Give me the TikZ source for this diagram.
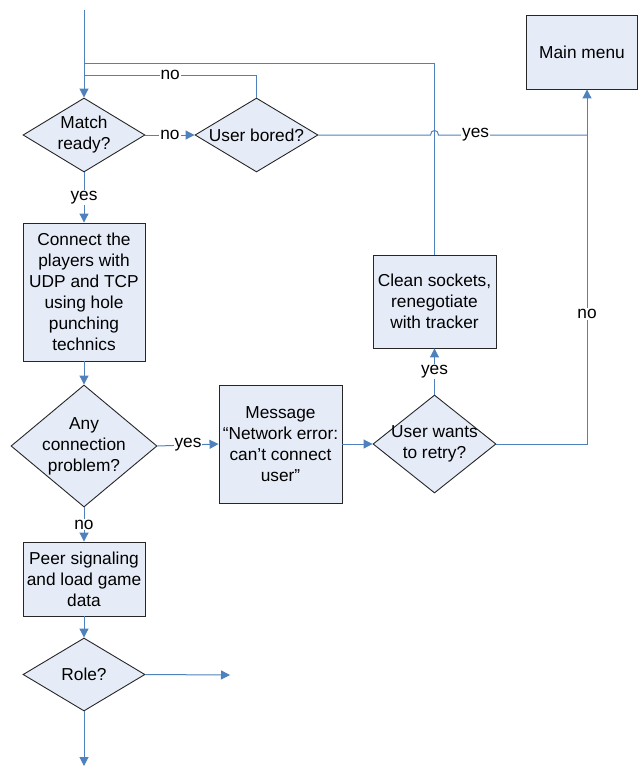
\documentclass[tikz,border=0pt]{standalone}
\usepackage{fontspec}
\setmainfont{Liberation Sans}
\usetikzlibrary{shapes.geometric,arrows.meta,calc}
\definecolor{flowline}{HTML}{4F81BD}
\definecolor{flowfill}{HTML}{E6ECF7}
\begin{document}
\begin{tikzpicture}[x=1pt,y=-1pt,
		font=\fontsize{17.3}{21}\selectfont,
		link/.style={draw=flowline,line width=1pt},
		tip/.style={link,-{Triangle[length=9pt,width=9pt]}},
		proc/.style={rectangle,draw=black!85,fill=flowfill,align=center,inner sep=0pt,line width=0.9pt},
		ask/.style={diamond,draw=black!85,fill=flowfill,inner sep=0pt,line width=0.9pt},
		tag/.style={fill=white,inner sep=1pt}]
	\useasboundingbox (0,0) rectangle (638,769);
		\coordinate (start) at (84,10);
		\coordinate (loopa) at (84,63);
		\coordinate (loopb) at (84,75);
		\coordinate (join) at (587,135);
		\coordinate (side) at (230,675);
		\coordinate (finish) at (84,766);
		\node[ask,minimum width=122,minimum height=74,label={[align=center]center:Match\\ready?}] (match) at (84,135) {};
		\node[ask,minimum width=123,minimum height=74,label={center:User bored?}] (bored) at (256.5,135) {};
		\node[proc,minimum width=111,minimum height=74] (menu) at (582,52) {Main menu};
		\node[proc,minimum width=122,minimum height=138] (connect) at (84,292) {Connect the\\players with\\UDP and TCP\\using hole\\punching\\technics};
		\node[ask,minimum width=146,minimum height=122,label={[align=center]center:Any\\connection\\problem?}] (problem) at (84,446) {};
		\node[proc,minimum width=123,minimum height=118] (message) at (280.5,444) {Message\\“Network error:\\can’t connect\\user”};
		\node[ask,minimum width=123,minimum height=98,label={[align=center]center:User wants\\to retry?}] (retry) at (434.5,444) {};
		\node[proc,minimum width=123,minimum height=93] (clean) at (434.5,301.5) {Clean sockets,\\renegotiate\\with tracker};
		\node[proc,minimum width=122,minimum height=74] (peer) at (84,579) {Peer signaling\\and load game\\data};
		\node[ask,minimum width=122,minimum height=73,label={center:Role?}] (role) at (84,674.5) {};
		\coordinate (hopa) at ($(clean.north |- bored.east)+(-4,0)$);
		\coordinate (hopb) at ($(clean.north |- bored.east)+(4,0)$);
		\draw[tip] (start) -- (match.north);
		\draw[link] (clean.north) |- (loopa);
		\draw[link] (bored.north) |- node[tag,pos=0.75] {no} (loopb);
		\draw[tip] (match.east) -- node[tag] {no} (bored.west);
		\draw[link] (bored.east) -- (hopa) .. controls ($(hopa)+(0,-6)$) and ($(hopb)+(0,-6)$) .. (hopb) -- node[tag,pos=0.25] {yes} (join);
		\draw[tip] (join) -- (join |- menu.south);
		\draw[tip] (match.south) -- node[tag] {yes} (connect.north);
		\draw[tip] (connect.south) -- (problem.north);
		\draw[tip] (problem.east) -- node[tag] {yes} (message.west);
		\draw[tip] (message.east) -- (retry.west);
		\draw[tip] (retry.north) -- node[tag] {yes} (clean.south);
		\draw[link] (retry.east) -| node[tag,pos=0.71] {no} (join);
		\draw[tip] (problem.south) -- node[tag] {no} (peer.north);
		\draw[tip] (peer.south) -- (role.north);
		\draw[tip] (role.east) -- (side);
		\draw[tip] (role.south) -- (finish);
	\end{tikzpicture}
\end{document}
